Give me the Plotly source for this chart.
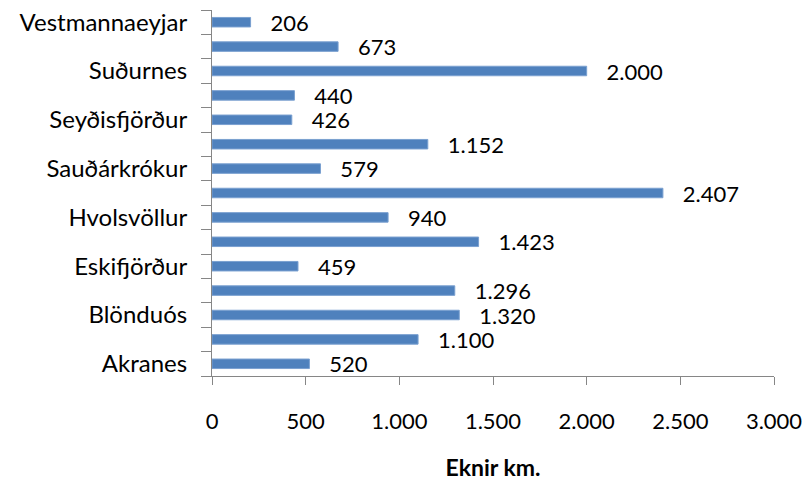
import plotly.graph_objects as go

# Police districts, bottom to top, and kilometres driven
districts = [
    "Akranes", "Akureyri", "Blönduós", "Borgarnes", "Eskifjörður",
    "Hólmavík", "Hvolsvöllur", "Höfuðborgarsvæðið", "Sauðárkrókur",
    "Selfoss", "Seyðisfjörður", "Snæfellsnes", "Suðurnes", "Vestfirðir",
    "Vestmannaeyjar",
]
km_driven = [520, 1100, 1320, 1296, 459, 1423, 940, 2407, 579,
             1152, 426, 440, 2000, 673, 206]

# Only every other district name is printed on the axis
shown_labels = [name if i % 2 == 0 else "" for i, name in enumerate(districts)]

x_ticks = [0, 500, 1000, 1500, 2000, 2500, 3000]

FONT = "Lato, Carlito, Calibri, sans-serif"
AXIS_GREY = "#868686"
NBSP = "\u00a0"

fig = go.Figure(
    go.Bar(
        y=districts,
        x=km_driven,
        orientation="h",
        marker=dict(color="#4F81BD", line=dict(color="#7AA0D0", width=1)),
        texttemplate=NBSP * 3 + "%{x:,}",
        textposition="outside",
        constraintext="none",
        textfont=dict(family=FONT, size=22, color="#000000"),
        cliponaxis=False,
    )
)

fig.update_layout(
    width=805,
    height=481,
    margin=dict(l=212, r=31, t=10, b=105),
    paper_bgcolor="white",
    plot_bgcolor="white",
    separators=",.",
    bargap=0.61,
    showlegend=False,
    font=dict(family=FONT, size=22, color="#000000"),
)

fig.update_xaxes(
    range=[0, 3000],
    tickvals=x_ticks,
    tickformat=",",
    showgrid=False,
    zeroline=False,
    showline=True,
    linecolor=AXIS_GREY,
    linewidth=1,
    ticks="outside",
    ticklen=8,
    tickcolor=AXIS_GREY,
    ticklabelstandoff=18,
    tickfont=dict(family=FONT, size=22),
    title=dict(text="<b>Eknir km.</b>", font=dict(family=FONT, size=23), standoff=27),
    automargin=False,
)

fig.update_yaxes(
    type="category",
    categoryorder="array",
    categoryarray=districts,
    range=[-0.5, len(districts) - 0.5],
    tickvals=districts,
    ticktext=shown_labels,
    tickson="boundaries",
    showgrid=False,
    zeroline=False,
    showline=True,
    linecolor=AXIS_GREY,
    linewidth=1,
    ticks="outside",
    ticklen=10,
    tickcolor=AXIS_GREY,
    ticklabelstandoff=19,
    tickfont=dict(family=FONT, size=24),
    automargin=False,
)

fig.write_html("out.html")
